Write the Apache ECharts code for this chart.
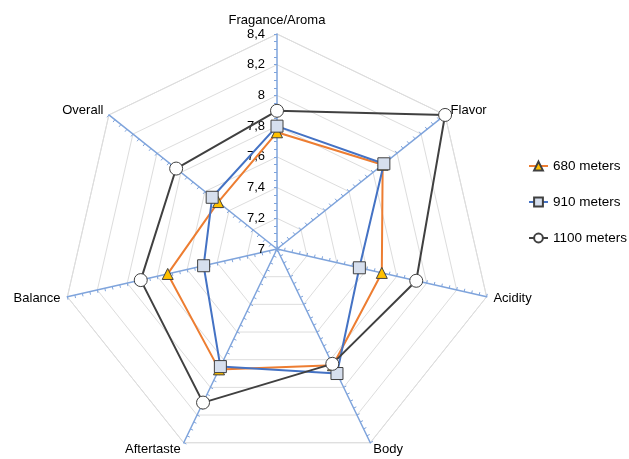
<!DOCTYPE html>
<html>
<head>
<meta charset="utf-8">
<script src="https://cdn.jsdelivr.net/npm/echarts@6/dist/echarts.min.js"></script>
<style>
  html, body { margin: 0; padding: 0; background: #fff; }
  #chart { width: 629px; height: 459px; }
</style>
</head>
<body>
<div id="chart"></div>
<script>
// attributes, clockwise from the top
const attributes = ['Fragance/Aroma', 'Flavor', 'Acidity', 'Body', 'Aftertaste', 'Balance', 'Overall'];
const altitudes = ['680 meters', '910 meters', '1100 meters'];
const values680 = [7.76, 7.88, 7.70, 7.84, 7.87, 7.73, 7.49];
const values910 = [7.80, 7.89, 7.55, 7.90, 7.85, 7.49, 7.54];
const values1100 = [7.90, 8.40, 7.93, 7.83, 8.11, 7.91, 7.84];
const axisMin = 7;
const axisMax = 8.4;

const font = 'Liberation Sans, Arial, sans-serif';
const lineColors = ['#ED7D31', '#4472C4', '#404040'];
const markerFill = ['#FFC000', '#D6DFEE', '#FFFFFF'];
const markerShape = ['triangle', 'rect', 'circle'];
const markerSize = [11, 12, 13];

// echarts draws radar axes counterclockwise, so flip the order after the first one
const reorder = arr => [arr[0]].concat(arr.slice(1).reverse());

const chart = echarts.init(document.getElementById('chart'));

const radarBase = {
  center: [277, 249],
  radius: 215,
  startAngle: 90,
  shape: 'polygon',
  splitArea: { show: false }
};

const indicatorsGrid = reorder(attributes).map((name, i) => ({
  name: name, min: axisMin, max: axisMax,
  axisLabel: i === 0 ? { show: true } : undefined
}));
const indicatorsAxis = reorder(attributes).map(name => ({ name: name, min: axisMin, max: axisMax }));

const seriesData = [values680, values910, values1100].map((vals, i) => ({
  name: altitudes[i],
  value: reorder(vals),
  symbol: markerShape[i],
  symbolSize: markerSize[i],
  lineStyle: { color: lineColors[i], width: 2 },
  itemStyle: { color: markerFill[i], borderColor: '#404040', borderWidth: 1 }
}));

// empty line series only give the legend its line+marker icons
const legendSeries = altitudes.map((name, i) => ({
  name: name,
  type: 'line',
  data: [],
  symbol: markerShape[i],
  lineStyle: { color: lineColors[i], width: 2 },
  itemStyle: { color: markerFill[i], borderColor: '#404040', borderWidth: 1 }
}));

const option = {
  animation: false,
  backgroundColor: '#fff',
  textStyle: { fontFamily: font },
  grid: { show: false, left: 0, top: 0, width: 1, height: 1 },
  xAxis: { show: false, type: 'value' },
  yAxis: { show: false, type: 'value' },
  legend: {
    orient: 'vertical',
    left: 528,
    top: 159,
    padding: 0,
    itemWidth: 19,
    itemHeight: 11,
    itemGap: 22,
    data: altitudes,
    lineStyle: { width: 2 },
    textStyle: { color: '#000', fontSize: 13.5, fontFamily: font }
  },
  radar: [
    Object.assign({}, radarBase, {
      indicator: indicatorsGrid,
      splitNumber: 7,
      axisName: { color: '#000', fontSize: 13, fontFamily: font },
      nameGap: 7,
      axisLine: { show: false },
      axisTick: { show: false },
      axisLabel: {
        show: false, color: '#000', fontSize: 13, fontFamily: font, margin: 12,
        formatter: v => String(Math.round(v * 10) / 10).replace('.', ',')
      },
      splitLine: { lineStyle: { color: '#DDDDDD', width: 1 } }
    }),
    Object.assign({}, radarBase, {
      indicator: indicatorsAxis,
      splitNumber: 28,
      axisName: { show: false },
      axisLine: { lineStyle: { color: '#7FA4DC', width: 1.5 } },
      axisTick: { show: true, length: 3, lineStyle: { color: '#7FA4DC', width: 1 } },
      axisLabel: { show: false },
      splitLine: { show: false }
    })
  ],
  series: legendSeries.concat([{
    type: 'radar',
    radarIndex: 0,
    z: 5,
    data: seriesData
  }])
};

chart.setOption(option);
</script>
</body>
</html>
